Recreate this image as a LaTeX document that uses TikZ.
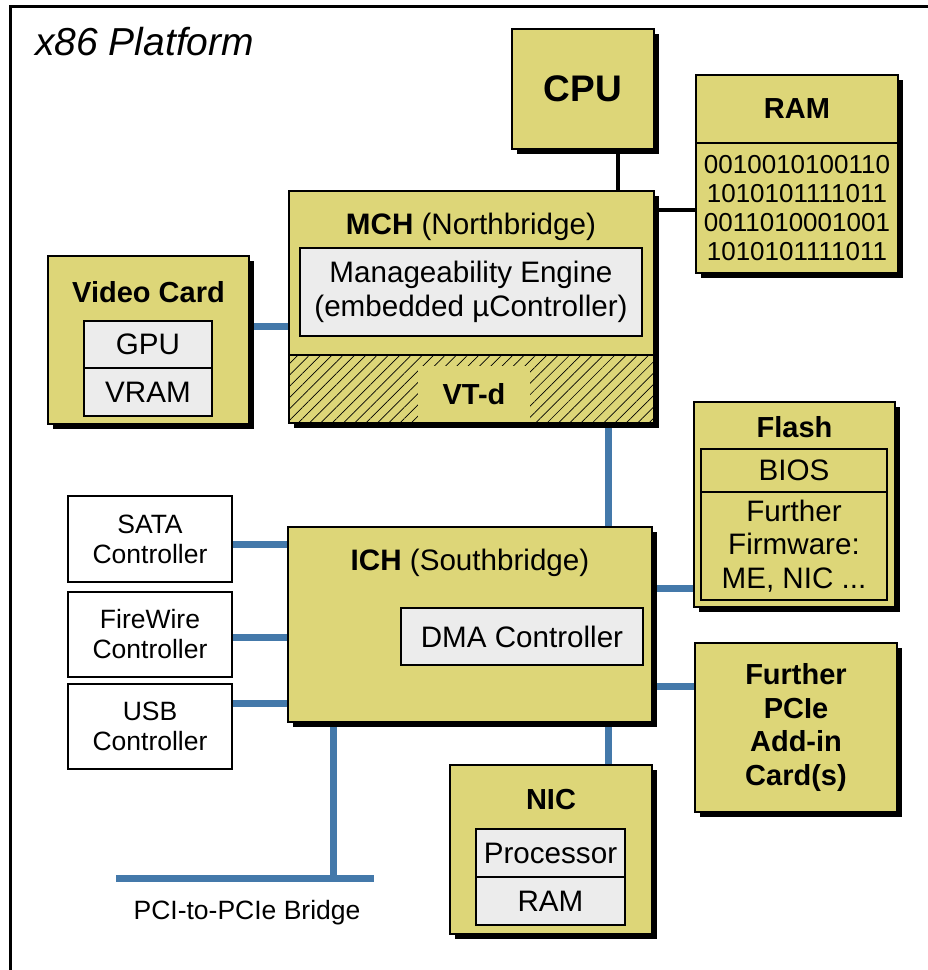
\documentclass[tikz,border=0pt]{standalone}
\usepackage{fontspec}
\setmainfont{Liberation Sans}
\usetikzlibrary{shadows,patterns.meta}
\definecolor{chipyellow}{RGB}{221,214,120}
\definecolor{busblue}{RGB}{68,121,170}
\definecolor{partgray}{RGB}{236,236,236}
\pgfdeclarelayer{background}
\pgfsetlayers{background,main}
\newcommand{\bodyfont}{\fontsize{29.6}{33.5}\selectfont}
\newcommand{\headfont}{\fontsize{29}{33.5}\selectfont}
\newcommand{\ctrlfont}{\fontsize{26.5}{30}\selectfont}
\newcommand{\bitfont}{\fontsize{26}{29}\selectfont}
\tikzset{
	chip/.style={draw,line width=2pt,fill=chipyellow,inner sep=0pt,
		drop shadow={shadow xshift=5pt,shadow yshift=-5pt,fill=black,opacity=1}},
	part/.style={draw,line width=2pt,fill=partgray,inner sep=0pt,align=center,font=\bodyfont},
	ctrl/.style={draw,line width=2pt,fill=white,inner sep=0pt,align=center,font=\ctrlfont},
	caption/.style={inner sep=0pt,font=\bodyfont,align=center},
	bus/.style={draw=busblue,line width=7pt},
	wire/.style={draw=black,line width=4pt},
}

\begin{document}
\begin{tikzpicture}[x=1pt,y=-1pt]
		\clip (0,0) rectangle (928,970);
		\draw[line width=3pt] (10,1000) -- (10,6) -- (1000,6);
		\node[anchor=base west,inner sep=0pt,font=\fontsize{39}{44}\selectfont\itshape] (platform) at (35,55) {x86 Platform};

		% processor and memory
		\node[chip,minimum width=142pt,minimum height=120pt,font=\fontsize{37}{40}\selectfont\bfseries] (cpu) at (583,89) {CPU};
		\node[chip,minimum width=202pt,minimum height=68pt,font=\headfont\bfseries] (ramtop) at (797,109) {RAM};
		\node[chip,minimum width=202pt,minimum height=130pt,font=\bitfont,align=center] (ram) at (797,208) {0010010100110\\1010101111011\\0011010001001\\1010101111011};

		% northbridge
		\node[chip,minimum width=365pt,minimum height=232pt] (mch) at (471.5,307) {};
		\node[draw,line width=2pt,inner sep=0pt,pattern={Lines[angle=45,distance=8pt,line width=0.7pt]},minimum width=365pt,minimum height=68pt] (vtdarea) at (471.5,389) {};
		\node[caption,font=\headfont,fill=chipyellow,minimum width=112pt,minimum height=56pt] (vtd) at (474,394) {\textbf{VT-d}};
		\node[caption,anchor=base] (mchlabel) at (471,234) {\textbf{MCH} (Northbridge)};
		\node[part,minimum width=342pt,minimum height=88pt] (me) at (471,292) {Manageability Engine\\(embedded µController)};

		% video card
		\node[chip,minimum width=201pt,minimum height=168pt] (video) at (148.5,340) {};
		\node[caption,font=\headfont,anchor=base] (videolabel) at (148.5,302) {\textbf{Video Card}};
		\node[part,minimum width=128pt,minimum height=47pt] (gpu) at (148,344.5) {GPU};
		\node[part,minimum width=128pt,minimum height=48pt] (vram) at (148,392) {VRAM};

		% southbridge
		\node[chip,minimum width=364pt,minimum height=195pt] (ich) at (470,624.5) {};
		\node[caption,anchor=base] (ichlabel) at (470,570) {\textbf{ICH} (Southbridge)};
		\node[part,minimum width=242pt,minimum height=57pt] (dma) at (522,636.5) {DMA Controller};

		% flash
		\node[chip,minimum width=201pt,minimum height=205pt] (flash) at (794.5,504.5) {};
		\node[caption,font=\headfont,anchor=base] (flashlabel) at (794.5,437) {\textbf{Flash}};
		\node[part,fill=chipyellow,minimum width=186pt,minimum height=43pt] (bios) at (794,470.5) {BIOS};
		\node[part,fill=chipyellow,minimum width=186pt,minimum height=108pt] (firmware) at (794,546) {Further\\Firmware:\\ME, NIC ...};

		\node[chip,minimum width=202pt,minimum height=169pt,align=center,font=\headfont\bfseries] (pcie) at (796,727.5) {Further\\PCIe\\Add-in\\Card(s)};

		% network card
		\node[chip,minimum width=202pt,minimum height=169pt] (nic) at (551,849.5) {};
		\node[caption,font=\headfont,anchor=base] (niclabel) at (551,809) {\textbf{NIC}};
		\node[part,minimum width=149pt,minimum height=48pt] (proc) at (550.5,853) {Processor};
		\node[part,minimum width=149pt,minimum height=48pt] (nicram) at (550.5,901) {RAM};

		% controllers
		\node[ctrl,minimum width=164pt,minimum height=86pt] (sata) at (150,539) {SATA\\Controller};
		\node[ctrl,minimum width=164pt,minimum height=85pt] (firewire) at (150,634.5) {FireWire\\Controller};
		\node[ctrl,minimum width=164pt,minimum height=85pt] (usb) at (150,726.5) {USB\\Controller};

		\coordinate (pcileft) at (116,878);
		\coordinate (pciright) at (374,878);
		\coordinate (pcijoin) at (333,878);
		\node[font=\ctrlfont,inner sep=0pt] (pcilabel) at (247,913) {PCI-to-PCIe Bridge};

		\begin{pgfonlayer}{background}
			\draw[wire] (618,0 |- cpu.south) -- (618,0 |- mch.north);
			\draw[wire] (mch.east |- 0,210) -- (ram.west |- 0,210);
			\draw[bus] (video.east |- 0,326) -- (mch.west |- 0,326);
			\draw[bus] (608,0 |- mch.south) -- (608,0 |- ich.north);
			\foreach \dev/\y in {sata/544,firewire/637,usb/703}
				\draw[bus] (\dev.east |- 0,\y) -- (ich.west |- 0,\y);
			\draw[bus] (ich.east |- 0,588) -- (flash.west |- 0,588);
			\draw[bus] (ich.east |- 0,686) -- (pcie.west |- 0,686);
			\draw[bus] (608,0 |- ich.south) -- (608,0 |- nic.north);
			\draw[bus] (pcileft) -- (pciright);
			\draw[bus] (333,0 |- ich.south) -- (pcijoin);
		\end{pgfonlayer}
\end{tikzpicture}
\end{document}
